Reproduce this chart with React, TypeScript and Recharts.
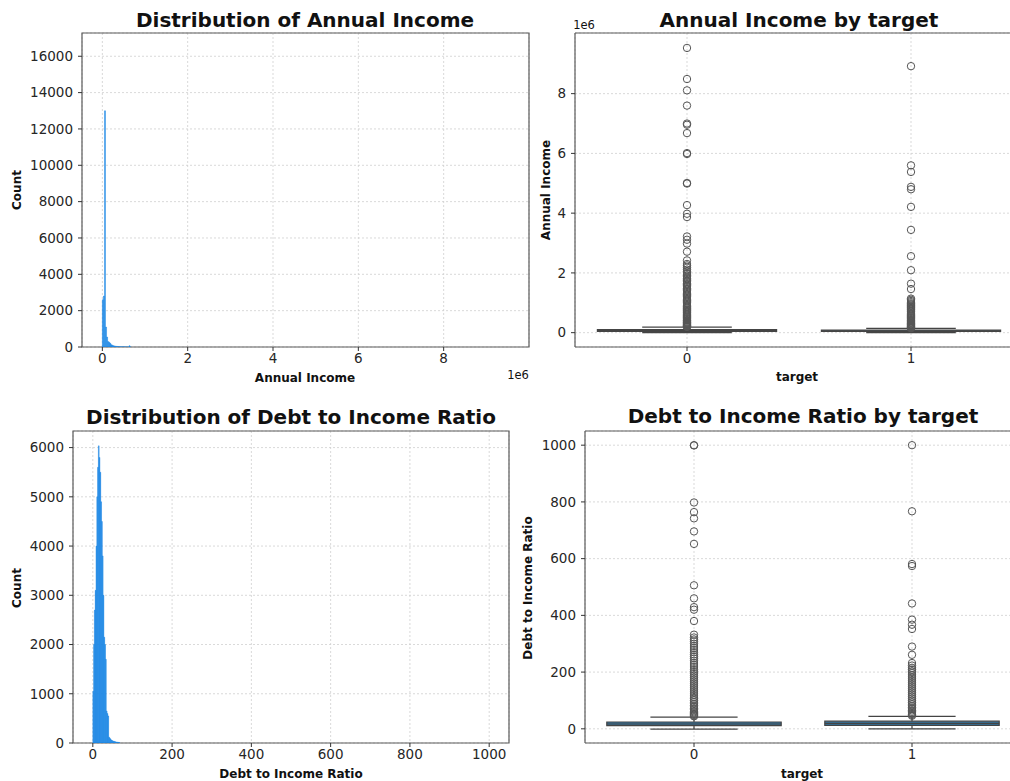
import React from "react";
import {
  Bar,
  CartesianGrid,
  ComposedChart,
  ReferenceArea,
  ReferenceLine,
  Scatter,
  XAxis,
  YAxis,
} from "recharts";

const FONT = "'DejaVu Sans', sans-serif";
const HIST_BLUE = "#1e88e5";
const BOX_BLUE = "#3274a1";
const LINE = "#444444";
const FRAME = "#5a5a5a";
const GRID = "#cfcfcf";

// ---- annual income histogram (bin centres, 25k wide) ----
const incomeBinCenters = [
  12500, 37500, 62500, 87500, 112500, 137500, 162500, 187500, 212500, 237500,
  262500, 287500, 312500, 337500, 362500, 387500, 412500, 437500, 462500,
  487500, 512500, 537500, 562500, 587500, 612500, 637500, 662500,
];
const incomeCounts = [
  2600, 2800, 13000, 1100, 550, 300, 260, 200, 130, 100, 75, 60, 45, 35, 28,
  22, 18, 14, 12, 10, 8, 7, 6, 5, 4, 70, 4,
];
const incomeXTicks = [0, 2000000, 4000000, 6000000, 8000000];
const incomeCountTicks = [0, 2000, 4000, 6000, 8000, 10000, 12000, 14000, 16000];

// ---- debt to income histogram (bin centres, width 2) ----
const dtiBinCenters = [
  1, 3, 5, 7, 9, 11, 13, 15, 17, 19, 21, 23, 25, 27, 29, 31, 33, 35, 37, 39,
  41, 43, 45, 47, 49, 51, 53, 55, 57, 59, 61, 63, 65, 67,
];
const dtiCounts = [
  1050, 2000, 2700, 3100, 4000, 5000, 5600, 6035, 5800, 5500, 4900, 4500,
  3800, 3000, 2150, 2000, 1700, 650, 600, 550, 120, 100, 80, 60, 50, 40, 35,
  30, 25, 20, 18, 15, 12, 10,
];
const dtiXTicks = [0, 200, 400, 600, 800, 1000];
const dtiCountTicks = [0, 1000, 2000, 3000, 4000, 5000, 6000];

// ---- box plots by target ----
const targets = [0, 1];

const incomeLower = [0, 0];
const incomeQ1 = [45000, 38000];
const incomeMedian = [68000, 58000];
const incomeQ3 = [105000, 82000];
const incomeUpper = [185000, 142000];
const incomeOutliers0 = [
  9530000, 8490000, 8110000, 7600000, 7000000, 6960000, 6680000, 6010000,
  5980000, 5010000, 4990000, 4270000, 3980000, 3870000, 3220000, 3110000,
  2980000, 2710000, 2420000, 2300000, 2250000, 2180000, 2110000, 2050000,
  2000000, 1960000, 1910000, 1870000, 1820000, 1790000, 1740000, 1700000,
  1650000, 1610000, 1570000, 1530000, 1480000, 1450000, 1400000, 1360000,
  1320000, 1280000, 1250000, 1200000, 1160000, 1120000, 1080000, 1050000,
  1000000, 960000, 920000, 880000, 850000, 810000, 770000, 740000, 700000,
  670000, 630000, 600000, 570000, 540000, 510000, 480000, 450000, 420000,
  400000, 370000, 350000, 330000, 310000, 290000, 270000, 250000, 235000,
  220000, 205000, 192000,
];
const incomeOutliers1 = [
  8920000, 5600000, 5380000, 4880000, 4800000, 4210000, 3440000, 2560000,
  2090000, 1640000, 1460000, 1140000, 1100000, 1060000, 1020000, 980000,
  950000, 910000, 870000, 840000, 800000, 770000, 730000, 700000, 660000,
  630000, 600000, 570000, 540000, 510000, 480000, 450000, 420000, 395000,
  370000, 345000, 320000, 300000, 280000, 260000, 240000, 222000, 205000,
  190000, 175000, 160000, 150000,
];
const incomeBoxTicks = [0, 2000000, 4000000, 6000000, 8000000];

const dtiLower = [-1, 0];
const dtiQ1 = [11, 12];
const dtiMedian = [17, 19];
const dtiQ3 = [24, 27];
const dtiUpper = [41, 44];
const dtiOutliers0 = [
  1000, 999, 798, 764, 742, 696, 652, 506, 460, 429, 420, 380, 332, 322, 315,
  308, 300, 292, 285, 278, 270, 262, 255, 248, 240, 232, 225, 218, 210, 203,
  196, 189, 182, 175, 168, 161, 154, 147, 140, 133, 126, 119, 112, 106, 100,
  94, 88, 82, 77, 72, 67, 62, 58, 54, 50, 47, 44,
];
const dtiOutliers1 = [
  1000, 767, 581, 574, 442, 385, 367, 352, 290, 261, 232, 223, 215, 209, 203,
  197, 190, 183, 176, 169, 162, 155, 148, 141, 134, 127, 120, 113, 106, 99, 93,
  87, 81, 75, 70, 65, 60, 56, 52, 49, 46,
];
const dtiBoxTicks = [0, 200, 400, 600, 800, 1000];

const tickStyle = { fontSize: 13.5, fill: "#262626", fontFamily: FONT };

function Txt({
  x,
  y,
  size = 12,
  bold = true,
  rotate = false,
  children,
}: {
  x: number;
  y: number;
  size?: number;
  bold?: boolean;
  rotate?: boolean;
  children: React.ReactNode;
}) {
  return (
    <div
      style={{
        position: "absolute",
        left: x,
        top: y,
        transform: `translate(-50%, -50%)${rotate ? " rotate(-90deg)" : ""}`,
        fontFamily: FONT,
        fontSize: size,
        fontWeight: bold ? 700 : 400,
        color: "#111",
        whiteSpace: "nowrap",
        lineHeight: 1,
      }}
    >
      {children}
    </div>
  );
}

interface HistProps {
  left: number;
  top: number;
  width: number;
  height: number;
  margin: { top: number; right: number; bottom: number; left: number };
  yWidth: number;
  xHeight: number;
  centers: number[];
  counts: number[];
  xDomain: [number, number];
  yDomain: [number, number];
  xTicks: number[];
  yTicks: number[];
  xFormat?: (v: number) => string;
}

function Histogram(p: HistProps) {
  const data = p.centers.map((x, i) => ({ x, count: p.counts[i] }));
  return (
    <div style={{ position: "absolute", left: p.left, top: p.top, width: p.width, height: p.height }}>
      <ComposedChart
        width={p.width}
        height={p.height}
        data={data}
        margin={p.margin}
        barCategoryGap={0}
        barGap={0}
      >
        <CartesianGrid stroke={GRID} strokeDasharray="2 2" strokeWidth={0.8} />
        <XAxis
          type="number"
          dataKey="x"
          domain={p.xDomain}
          ticks={p.xTicks}
          allowDataOverflow
          height={p.xHeight}
          tick={tickStyle}
          tickSize={4}
          tickMargin={2}
          tickLine={{ stroke: "#333" }}
          axisLine={false}
          tickFormatter={p.xFormat}
          interval={0}
        />
        <YAxis
          type="number"
          domain={p.yDomain}
          ticks={p.yTicks}
          allowDataOverflow
          width={p.yWidth}
          tick={tickStyle}
          tickSize={4}
          tickMargin={5}
          tickLine={{ stroke: "#333" }}
          axisLine={false}
          interval={0}
        />
        <Bar
          dataKey="count"
          fill={HIST_BLUE}
          stroke={HIST_BLUE}
          strokeWidth={0.4}
          isAnimationActive={false}
        />
        <ReferenceArea
          x1={p.xDomain[0]}
          x2={p.xDomain[1]}
          y1={p.yDomain[0]}
          y2={p.yDomain[1]}
          fill="none"
          stroke={FRAME}
          strokeWidth={1.2}
        />
      </ComposedChart>
    </div>
  );
}

interface BoxProps {
  left: number;
  top: number;
  width: number;
  height: number;
  margin: { top: number; right: number; bottom: number; left: number };
  yWidth: number;
  xHeight: number;
  lower: number[];
  q1: number[];
  median: number[];
  q3: number[];
  upper: number[];
  outliers: number[][];
  yDomain: [number, number];
  yTicks: number[];
  yFormat?: (v: number) => string;
}

function Outlier(props: any) {
  const { cx, cy } = props;
  if (cx == null || cy == null) return null;
  return <circle cx={cx} cy={cy} r={3.7} fill="none" stroke="#555" strokeWidth={1} />;
}

function BoxPlot(p: BoxProps) {
  const xDomain: [number, number] = [-0.5, 1.5];
  const points = targets.flatMap((t, i) => p.outliers[i].map((y) => ({ x: t, y })));
  return (
    <div style={{ position: "absolute", left: p.left, top: p.top, width: p.width, height: p.height }}>
      <ComposedChart width={p.width} height={p.height} margin={p.margin}>
        <CartesianGrid stroke={GRID} strokeDasharray="2 2" strokeWidth={0.8} />
        <XAxis
          type="number"
          dataKey="x"
          domain={xDomain}
          ticks={targets}
          allowDataOverflow
          height={p.xHeight}
          tick={tickStyle}
          tickSize={4}
          tickMargin={2}
          tickLine={{ stroke: "#333" }}
          axisLine={false}
          interval={0}
        />
        <YAxis
          type="number"
          dataKey="y"
          domain={p.yDomain}
          ticks={p.yTicks}
          allowDataOverflow
          width={p.yWidth}
          tick={tickStyle}
          tickSize={4}
          tickMargin={5}
          tickLine={{ stroke: "#333" }}
          axisLine={false}
          tickFormatter={p.yFormat}
          interval={0}
        />
        {targets.map((t, i) => (
          <ReferenceLine
            key={`wl${t}`}
            segment={[
              { x: t, y: p.lower[i] },
              { x: t, y: p.q1[i] },
            ]}
            stroke={LINE}
            strokeWidth={1.2}
          />
        ))}
        {targets.map((t, i) => (
          <ReferenceLine
            key={`wu${t}`}
            segment={[
              { x: t, y: p.q3[i] },
              { x: t, y: p.upper[i] },
            ]}
            stroke={LINE}
            strokeWidth={1.2}
          />
        ))}
        {targets.map((t, i) => (
          <ReferenceLine
            key={`cl${t}`}
            segment={[
              { x: t - 0.2, y: p.lower[i] },
              { x: t + 0.2, y: p.lower[i] },
            ]}
            stroke={LINE}
            strokeWidth={1.2}
          />
        ))}
        {targets.map((t, i) => (
          <ReferenceLine
            key={`cu${t}`}
            segment={[
              { x: t - 0.2, y: p.upper[i] },
              { x: t + 0.2, y: p.upper[i] },
            ]}
            stroke={LINE}
            strokeWidth={1.2}
          />
        ))}
        {targets.map((t, i) => (
          <ReferenceArea
            key={`box${t}`}
            x1={t - 0.4}
            x2={t + 0.4}
            y1={p.q1[i]}
            y2={p.q3[i]}
            fill={BOX_BLUE}
            fillOpacity={1}
            stroke={LINE}
            strokeWidth={1.2}
          />
        ))}
        {targets.map((t, i) => (
          <ReferenceLine
            key={`med${t}`}
            segment={[
              { x: t - 0.4, y: p.median[i] },
              { x: t + 0.4, y: p.median[i] },
            ]}
            stroke={LINE}
            strokeWidth={1.2}
          />
        ))}
        <Scatter data={points} shape={<Outlier />} isAnimationActive={false} />
        {/* frame: the right side falls outside the cropped picture */}
        <ReferenceLine x={xDomain[0]} stroke={FRAME} strokeWidth={1.2} />
        <ReferenceLine y={p.yDomain[0]} stroke={FRAME} strokeWidth={1.2} />
        <ReferenceLine y={p.yDomain[1]} stroke={FRAME} strokeWidth={1.2} />
      </ComposedChart>
    </div>
  );
}

const millions = (v: number) => String(Math.round(v / 1e6));

export default function App() {
  return (
    <div
      style={{
        position: "absolute",
        left: 0,
        top: 0,
        width: 1010,
        height: 781,
        overflow: "hidden",
        background: "#fff",
      }}
    >
      {/* top left: income histogram */}
      <Histogram
        left={0}
        top={0}
        width={540}
        height={390}
        margin={{ top: 33, right: 11, bottom: 0, left: 0 }}
        yWidth={82}
        xHeight={43}
        centers={incomeBinCenters}
        counts={incomeCounts}
        xDomain={[-477000, 10000000]}
        yDomain={[0, 17280]}
        xTicks={incomeXTicks}
        yTicks={incomeCountTicks}
        xFormat={millions}
      />
      <Txt x={305} y={20} size={20}>Distribution of Annual Income</Txt>
      <Txt x={17} y={190} rotate>Count</Txt>
      <Txt x={305} y={378}>Annual Income</Txt>
      <Txt x={518} y={376} bold={false} size={11.5}>1e6</Txt>

      {/* top right: income by target */}
      <BoxPlot
        left={500}
        top={0}
        width={523}
        height={390}
        margin={{ top: 33, right: 0, bottom: 0, left: 0 }}
        yWidth={75}
        xHeight={43}
        lower={incomeLower}
        q1={incomeQ1}
        median={incomeMedian}
        q3={incomeQ3}
        upper={incomeUpper}
        outliers={[incomeOutliers0, incomeOutliers1]}
        yDomain={[-480000, 10030000]}
        yTicks={incomeBoxTicks}
        yFormat={millions}
      />
      <Txt x={799} y={20} size={20}>Annual Income by target</Txt>
      <Txt x={584} y={26} bold={false} size={11.5}>1e6</Txt>
      <Txt x={546} y={190} rotate>Annual Income</Txt>
      <Txt x={797} y={377}>target</Txt>

      {/* bottom left: dti histogram */}
      <Histogram
        left={0}
        top={390}
        width={520}
        height={391}
        margin={{ top: 41, right: 11, bottom: 0, left: 0 }}
        yWidth={73}
        xHeight={38}
        centers={dtiBinCenters}
        counts={dtiCounts}
        xDomain={[-50, 1050]}
        yDomain={[0, 6337]}
        xTicks={dtiXTicks}
        yTicks={dtiCountTicks}
      />
      <Txt x={291} y={417} size={20}>Distribution of Debt to Income Ratio</Txt>
      <Txt x={17} y={588} rotate>Count</Txt>
      <Txt x={291} y={774}>Debt to Income Ratio</Txt>

      {/* bottom right: dti by target */}
      <BoxPlot
        left={500}
        top={390}
        width={521}
        height={391}
        margin={{ top: 41, right: 0, bottom: 0, left: 0 }}
        yWidth={85}
        xHeight={38}
        lower={dtiLower}
        q1={dtiQ1}
        median={dtiMedian}
        q3={dtiQ3}
        upper={dtiUpper}
        outliers={[dtiOutliers0, dtiOutliers1]}
        yDomain={[-50, 1050]}
        yTicks={dtiBoxTicks}
      />
      <Txt x={803} y={416} size={20}>Debt to Income Ratio by target</Txt>
      <Txt x={528} y={588} rotate>Debt to Income Ratio</Txt>
      <Txt x={802} y={774}>target</Txt>
    </div>
  );
}
